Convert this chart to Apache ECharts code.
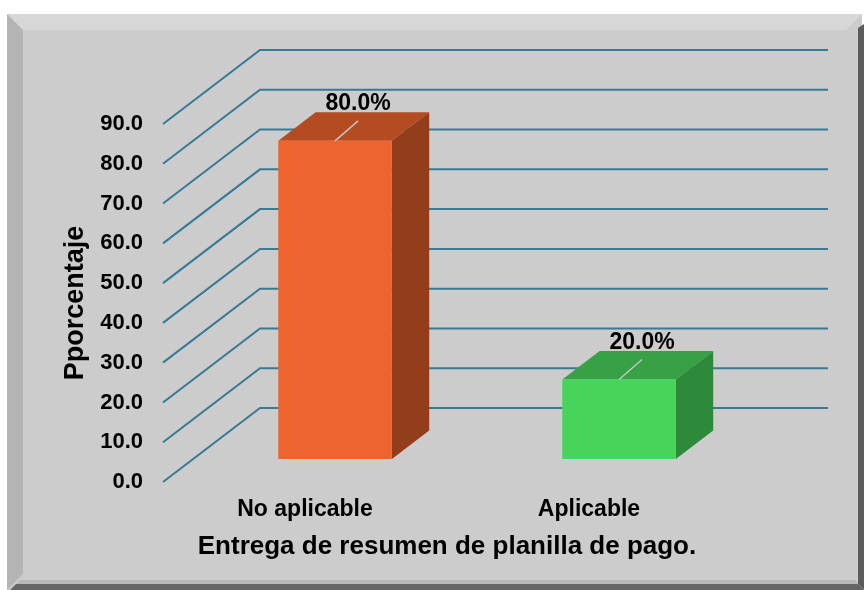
<!DOCTYPE html>
<html>
<head>
<meta charset="utf-8">
<script src="https://cdn.jsdelivr.net/npm/echarts@6/dist/echarts.min.js"></script>
<style>
  html, body { margin: 0; padding: 0; background: #fff; }
  #chart { width: 864px; height: 590px; }
</style>
</head>
<body>
<div id="chart"></div>
<script>
const categories = ['No aplicable', 'Aplicable']
const values = [80.0, 20.0]
const yTicks = [0, 10, 20, 30, 40, 50, 60, 70, 80, 90]

const frontColors = ['#EE642E', '#46D55A']
const topColors = ['#B44B21', '#37A146']
const sideColors = ['#943D1B', '#2D8A3B']

const FONT = '"Liberation Sans", Arial, sans-serif'
// depth of the 3d floor (front edge -> back wall)
const DEPTH_X = 97
const DEPTH_Y = -74
const D0 = 0.31
const D1 = 0.695
const BAR_W = 0.4

const chart = echarts.init(document.getElementById('chart'))

function renderGridLine(params, api) {
  const rect = params.coordSys
  const y = api.coord([0, api.value(1)])[1]
  return {
    type: 'polyline',
    shape: {
      points: [
        [rect.x, y],
        [rect.x + DEPTH_X, y + DEPTH_Y],
        [rect.x + rect.width + DEPTH_X, y + DEPTH_Y],
      ],
    },
    style: { stroke: '#377A96', lineWidth: 2, fill: null },
    silent: true,
  }
}

function renderBar(params, api) {
  const i = api.value(0)
  const v = api.value(1)
  const base = api.coord([i, 0])
  const top = api.coord([i, v])
  const w = api.size([1, 0])[0] * BAR_W
  const fx = base[0] + D0 * DEPTH_X
  const fyB = base[1] + D0 * DEPTH_Y
  const fyT = top[1] + D0 * DEPTH_Y
  const ox = (D1 - D0) * DEPTH_X
  const oy = (D1 - D0) * DEPTH_Y
  const l = fx - w / 2
  const r = fx + w / 2
  const idx = params.dataIndex
  const lx = fx + 23
  const ly = fyT - 20
  return {
    type: 'group',
    children: [
      {
        type: 'polygon',
        shape: { points: [[l, fyT], [r, fyT], [r + ox, fyT + oy], [l + ox, fyT + oy]] },
        style: { fill: topColors[idx] },
      },
      {
        type: 'polygon',
        shape: { points: [[r, fyT], [r + ox, fyT + oy], [r + ox, fyB + oy], [r, fyB]] },
        style: { fill: sideColors[idx] },
      },
      {
        type: 'rect',
        shape: { x: l, y: fyT, width: w, height: fyB - fyT },
        style: { fill: frontColors[idx] },
      },
      {
        type: 'line',
        shape: { x1: fx, y1: fyT, x2: lx, y2: ly },
        style: { stroke: '#C4C4C4', lineWidth: 1.5 },
      },
      {
        type: 'text',
        x: lx,
        y: ly - 17,
        style: {
          text: v.toFixed(1) + '%',
          fill: '#000',
          font: 'bold 23px ' + FONT,
          align: 'center',
          verticalAlign: 'middle',
        },
      },
    ],
  }
}

const option = {
  animation: false,
  backgroundColor: '#ffffff',
  graphic: [
    { type: 'rect', z: -10, shape: { x: 7, y: 14, width: 855, height: 576 }, style: { fill: '#CCCCCC' } },
    { type: 'polygon', z: -9, shape: { points: [[7, 14], [862, 14], [846, 30], [23, 30]] }, style: { fill: '#D7D7D7' } },
    { type: 'polygon', z: -9, shape: { points: [[7, 14], [23, 30], [23, 574], [7, 590]] }, style: { fill: '#B4B4B4' } },
    { type: 'polygon', z: -9, shape: { points: [[858, 28], [864, 24], [864, 590], [858, 584]] }, style: { fill: '#5C5C5C' } },
    { type: 'polygon', z: -9, shape: { points: [[20, 580], [856, 580], [858, 584], [16, 584]] }, style: { fill: '#B8B8B8' } },
    { type: 'polygon', z: -9, shape: { points: [[16, 584], [858, 584], [864, 590], [10, 590]] }, style: { fill: '#666666' } },
  ],
  grid: {
    left: 163,
    right: 864 - 731,
    top: 124,
    bottom: 590 - 482,
  },
  xAxis: {
    type: 'category',
    data: categories,
    axisLine: { show: false },
    axisTick: { show: false },
    axisLabel: { margin: 16, color: '#000', fontSize: 23, fontWeight: 'bold', fontFamily: FONT },
    name: 'Entrega de resumen de planilla de pago.',
    nameLocation: 'middle',
    nameGap: 52,
    nameTextStyle: { color: '#000', fontSize: 26, fontWeight: 'bold', fontFamily: FONT },
  },
  yAxis: {
    type: 'value',
    min: 0,
    max: 90,
    interval: 10,
    axisLine: { show: false },
    axisTick: { show: false },
    splitLine: { show: false },
    axisLabel: {
      margin: 20,
      color: '#000',
      fontSize: 22,
      fontWeight: 'bold',
      fontFamily: FONT,
      formatter: v => v.toFixed(1),
    },
    name: 'Pporcentaje',
    nameLocation: 'middle',
    nameGap: 66,
    nameRotate: 90,
    nameTextStyle: { color: '#000', fontSize: 27, fontWeight: 'bold', fontFamily: FONT },
  },
  series: [
    {
      type: 'custom',
      renderItem: renderGridLine,
      data: yTicks.map(v => [0, v]),
      clip: false,
      silent: true,
      z: 1,
    },
    {
      type: 'custom',
      renderItem: renderBar,
      data: values.map((v, i) => [i, v]),
      clip: false,
      z: 2,
    },
  ],
}

chart.setOption(option)
</script>
</body>
</html>
